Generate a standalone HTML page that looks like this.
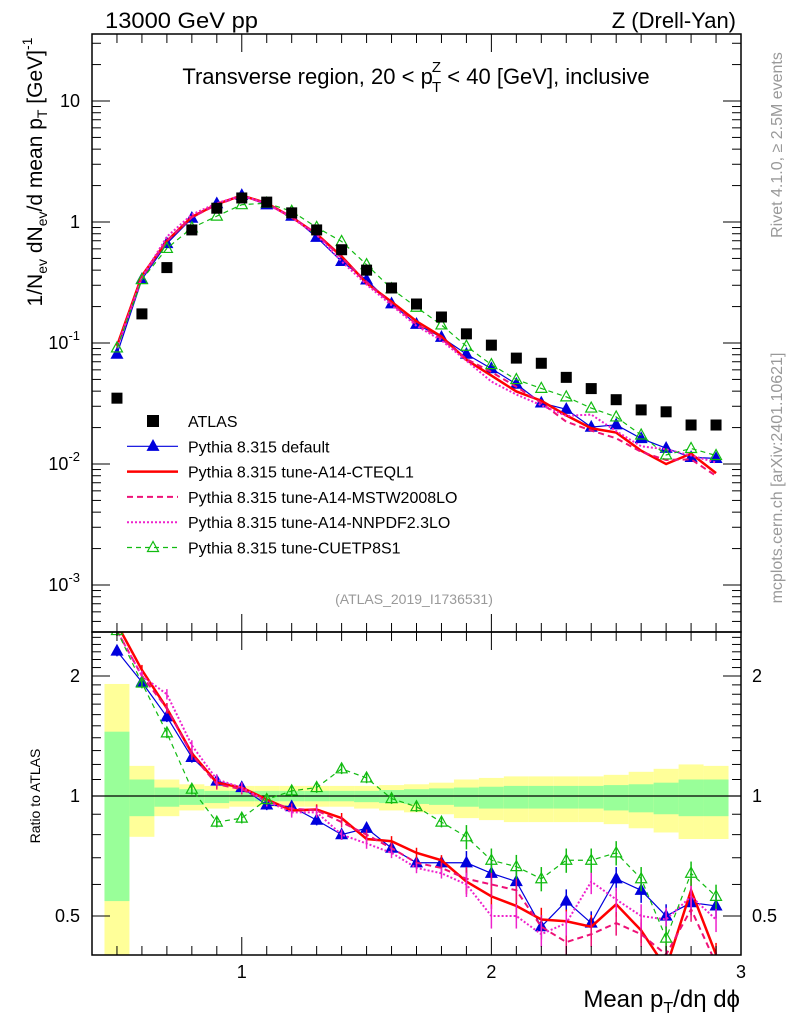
<!DOCTYPE html>
<html><head><meta charset="utf-8"><style>
html,body{margin:0;padding:0;background:#fff;}
svg{display:block;font-family:"Liberation Sans",sans-serif;}
</style></head><body>
<svg id="chart" width="786" height="1024" viewBox="0 0 786 1024" xmlns="http://www.w3.org/2000/svg">
<text x="105" y="28" font-size="22" textLength="153" lengthAdjust="spacingAndGlyphs">13000 GeV pp</text>
<text x="736" y="28" font-size="22" text-anchor="end">Z (Drell-Yan)</text>
<text x="416" y="84" font-size="22" text-anchor="middle">Transverse region, 20 &lt; p<tspan font-size="15" dy="-12" dx="-1">Z</tspan><tspan font-size="15" dy="20" dx="-9">T</tspan><tspan dy="-8"> &lt; 40 [GeV], inclusive</tspan></text>
<text transform="translate(42,172) rotate(-90)" font-size="21" text-anchor="middle">1/N<tspan font-size="14" dy="5">ev</tspan><tspan dy="-5"> dN</tspan><tspan font-size="14" dy="5">ev</tspan><tspan dy="-5">/d mean p</tspan><tspan font-size="14" dy="5">T</tspan><tspan dy="-5"> [GeV]</tspan><tspan font-size="14" dy="-10">-1</tspan></text>
<text transform="translate(40,796) rotate(-90)" font-size="14" text-anchor="middle">Ratio to ATLAS</text>
<text x="740" y="1007" font-size="24" text-anchor="end">Mean p<tspan font-size="16" dy="6">T</tspan><tspan dy="-6">/dη dϕ</tspan></text>
<text transform="translate(782,145) rotate(-90)" font-size="16" fill="#999" text-anchor="middle">Rivet 4.1.0, ≥ 2.5M events</text>
<text transform="translate(782,478) rotate(-90)" font-size="16" fill="#999" text-anchor="middle">mcplots.cern.ch [arXiv:2401.10621]</text>
<text x="414" y="604" font-size="14" fill="#999" text-anchor="middle">(ATLAS_2019_I1736531)</text>
<g id="bands"></g><g id="plots"></g><g id="axes"></g><g id="legend"></g>
</svg>
<script>
const xVals=[0.5,0.6,0.7,0.8,0.9,1.0,1.1,1.2,1.3,1.4,1.5,1.6,1.7,1.8,1.9,2.0,2.1,2.2,2.3,2.4,2.5,2.6,2.7,2.8,2.9];
const atlas=[0.035,0.174,0.42,0.86,1.3,1.58,1.46,1.19,0.86,0.59,0.40,0.285,0.21,0.164,0.119,0.096,0.075,0.068,0.052,0.042,0.034,0.028,0.027,0.021,0.021];
const rDefault=[2.31,1.93,1.58,1.25,1.09,1.05,0.95,0.94,0.87,0.80,0.83,0.74,0.68,0.68,0.68,0.64,0.61,0.47,0.545,0.48,0.62,0.58,0.50,0.54,0.53];
const rCteq=[2.7,2.07,1.66,1.28,1.08,1.05,0.98,0.92,0.925,0.88,0.78,0.77,0.72,0.69,0.61,0.56,0.53,0.49,0.485,0.47,0.535,0.46,0.37,0.58,0.40];
const rMstw=[2.6,2.0,1.66,1.27,1.07,1.04,0.97,0.93,0.92,0.86,0.80,0.74,0.68,0.66,0.62,0.60,0.58,0.47,0.43,0.45,0.48,0.45,0.40,0.52,0.38];
const rNnpdf=[2.6,2.0,1.80,1.34,1.10,1.05,0.97,0.91,0.91,0.80,0.76,0.72,0.66,0.64,0.60,0.50,0.50,0.45,0.48,0.61,0.55,0.50,0.49,0.56,0.49];
const rCuetp=[2.6,1.92,1.44,1.04,0.86,0.88,0.98,1.03,1.05,1.17,1.11,0.985,0.94,0.86,0.79,0.69,0.665,0.62,0.69,0.69,0.72,0.62,0.44,0.64,0.56];
const greenHi=[1.45,1.10,1.05,1.04,1.03,1.03,1.03,1.03,1.03,1.03,1.03,1.035,1.04,1.045,1.05,1.055,1.06,1.06,1.06,1.06,1.065,1.07,1.08,1.10,1.10];
const greenLo=[0.545,0.89,0.94,0.95,0.96,0.97,0.97,0.97,0.97,0.97,0.965,0.96,0.955,0.95,0.94,0.93,0.93,0.93,0.93,0.93,0.92,0.91,0.90,0.89,0.89];
const yellowHi=[1.91,1.19,1.10,1.07,1.06,1.06,1.06,1.06,1.06,1.06,1.06,1.065,1.07,1.08,1.10,1.11,1.12,1.12,1.12,1.12,1.13,1.15,1.17,1.20,1.19];
const yellowLo=[0.3,0.79,0.89,0.92,0.93,0.94,0.94,0.94,0.94,0.94,0.93,0.92,0.91,0.90,0.88,0.87,0.86,0.86,0.86,0.86,0.85,0.83,0.81,0.78,0.78];
const mainTicks=[10,1,0.1,0.01,0.001];
const mainTickLabels=["10","1","10^-1","10^-2","10^-3"];
const ratioTicks=[2,1,0.5];
const xTickLabels=[1,2,3];

const NS="http://www.w3.org/2000/svg";
const L=92,R=741,MT=34,MB=632,RT=632,RB=955;
const xs=v=>L+(v-0.4)*(R-L)/2.6;
const ym=v=>222-121*Math.log10(v);
const yr=v=>796-120*Math.log2(v);
function mk(tag,attrs,parent){const e=document.createElementNS(NS,tag);for(const k in attrs)e.setAttribute(k,attrs[k]);parent.appendChild(e);return e;}
const bands=document.getElementById('bands'),plots=document.getElementById('plots'),axes=document.getElementById('axes'),legend=document.getElementById('legend');
const defs=mk('defs',{},document.getElementById('chart'));
const c1=mk('clipPath',{id:'cm'},defs);mk('rect',{x:L,y:MT,width:R-L,height:MB-MT},c1);
const c2=mk('clipPath',{id:'cr'},defs);mk('rect',{x:L,y:RT,width:R-L,height:RB-RT},c2);
bands.setAttribute('clip-path','url(#cr)');
xVals.forEach((x,i)=>{
  const x0=xs(x-0.05),x1=xs(x+0.05);
  const y1=mk('rect',{x:x0,y:yr(yellowHi[i]),width:x1-x0,height:yr(yellowLo[i])-yr(yellowHi[i]),fill:'#ffff99'},bands);
  
  
  const g1=mk('rect',{x:x0,y:yr(greenHi[i]),width:x1-x0,height:yr(greenLo[i])-yr(greenHi[i]),fill:'#99ff99'},bands);
  
  
});
const one=mk('line',{x1:L,x2:R,y1:yr(1),y2:yr(1),stroke:'#000','stroke-width':1.2},bands);



const series=[
 {name:'default',r:rDefault,color:'#0000dd',w:1.2,dash:'',marker:'tri'},
 {name:'cteql1',r:rCteq,color:'#ff0000',w:2.5,dash:'',marker:''},
 {name:'mstw2008lo',r:rMstw,color:'#ee1177',w:2,dash:'6,4',marker:''},
 {name:'nnpdf23lo',r:rNnpdf,color:'#ee22cc',w:2,dash:'2,2',marker:''},
 {name:'cuetp8s1',r:rCuetp,color:'#11bb11',w:1.2,dash:'5,4',marker:'otri'}];
const gm=mk('g',{'clip-path':'url(#cm)'},plots);
const gr=mk('g',{'clip-path':'url(#cr)'},plots);
function tri(p,x,y,c,open){const e=mk('polygon',{points:`${x},${y-6} ${x-5.5},${y+4} ${x+5.5},${y+4}`,fill:open?'none':c,stroke:c,'stroke-width':1.2},p);return e;}
series.forEach(s=>{
  const ptsM=xVals.map((x,i)=>xs(x)+','+ym(s.r[i]*atlas[i])).join(' ');
  const ptsR=xVals.map((x,i)=>xs(x)+','+yr(s.r[i])).join(' ');
  const a=mk('polyline',{points:ptsM,fill:'none',stroke:s.color,'stroke-width':s.w,'stroke-dasharray':s.dash},gm);
  
  
  const b=mk('polyline',{points:ptsR,fill:'none',stroke:s.color,'stroke-width':s.w,'stroke-dasharray':s.dash},gr);
  
  
  xVals.forEach((x,i)=>{
    const err=x>1.8?0.07:0.03;
    const e1=mk('line',{x1:xs(x),x2:xs(x),y1:yr(s.r[i]*(1+err)),y2:yr(s.r[i]*(1-err)),stroke:s.color,'stroke-width':1.5},gr);
    
    
    if(s.marker){
      const m1=tri(gm,xs(x),ym(s.r[i]*atlas[i]),s.color,s.marker==='otri');
      
      
      const m2=tri(gr,xs(x),yr(s.r[i]),s.color,s.marker==='otri');
      
      
    }
  });
});
xVals.forEach((x,i)=>{
  const sq=mk('rect',{x:xs(x)-5.5,y:ym(atlas[i])-5.5,width:11,height:11,fill:'#000'},gm);
  
  
});
[[MT,MB],[RT,RB]].forEach(([t,b])=>{mk('rect',{x:L,y:t,width:R-L,height:b-t,fill:'none',stroke:'#000','stroke-width':1.5},axes);});
for(let k=5;k<=29;k++){const v=k/10,x=xs(v),maj=(k%10===0),len=maj?18:9;
 [[MT,1],[MB,-1],[RT,1],[RB,-1]].forEach(([y,d])=>mk('line',{x1:x,x2:x,y1:y,y2:y+d*len,stroke:'#000','stroke-width':1},axes));}
xTickLabels.forEach(v=>{const t=mk('text',{x:xs(v),y:978,'font-size':18,'text-anchor':'middle'},axes);t.textContent=v;
 
 });
for(let d=-4;d<=1;d++){for(let m=1;m<=9;m++){const v=m*Math.pow(10,d),y=ym(v);if(y<MT||y>MB)continue;const len=m===1?18:9;
 mk('line',{x1:L,x2:L+len,y1:y,y2:y,stroke:'#000'},axes);mk('line',{x1:R,x2:R-len,y1:y,y2:y,stroke:'#000'},axes);}}
mainTicks.forEach((v,i)=>{const lab=mainTickLabels[i];const t=mk('text',{x:80,y:ym(v)+6,'font-size':18,'text-anchor':'end'},axes);
 if(lab.indexOf('^')>=0){const [b,e]=lab.split('^');t.textContent=b;const s=mk('tspan',{'font-size':13,dy:-9},t);s.textContent=e;}else t.textContent=lab;
 
 });
[0.5,0.6,0.7,0.8,0.9,1,1.1,1.2,1.3,1.4,1.5,1.6,1.7,1.8,1.9,2,2.1,2.2,2.3,2.4,2.5].forEach(v=>{const y=yr(v);if(y<RT||y>RB)return;const len=(v===0.5||v===1||v===2)?18:9;
 mk('line',{x1:L,x2:L+len,y1:y,y2:y,stroke:'#000'},axes);mk('line',{x1:R,x2:R-len,y1:y,y2:y,stroke:'#000'},axes);});
ratioTicks.forEach(v=>{[[80,'end'],[752,'start']].forEach(([x,a])=>{const t=mk('text',{x:x,y:yr(v)+6,'font-size':18,'text-anchor':a},axes);t.textContent=v;
 
 });});
const legNames=['ATLAS','Pythia 8.315 default','Pythia 8.315 tune-A14-CTEQL1','Pythia 8.315 tune-A14-MSTW2008LO','Pythia 8.315 tune-A14-NNPDF2.3LO','Pythia 8.315 tune-CUETP8S1'];
legNames.forEach((n,i)=>{const y=421+i*25.3;
 const g=mk('g',{},legend);
 
 
 if(i===0){mk('rect',{x:147,y:y-6,width:12,height:12,fill:'#000'},g);}
 else{const s=series[i-1];mk('line',{x1:127,x2:178,y1:y,y2:y,stroke:s.color,'stroke-width':s.w,'stroke-dasharray':s.dash},g);
  if(s.marker)tri(g,153,y,s.color,s.marker==='otri');}
 const t=mk('text',{x:188,y:y+6,'font-size':16},g);t.textContent=n;});
</script>
</body></html>
